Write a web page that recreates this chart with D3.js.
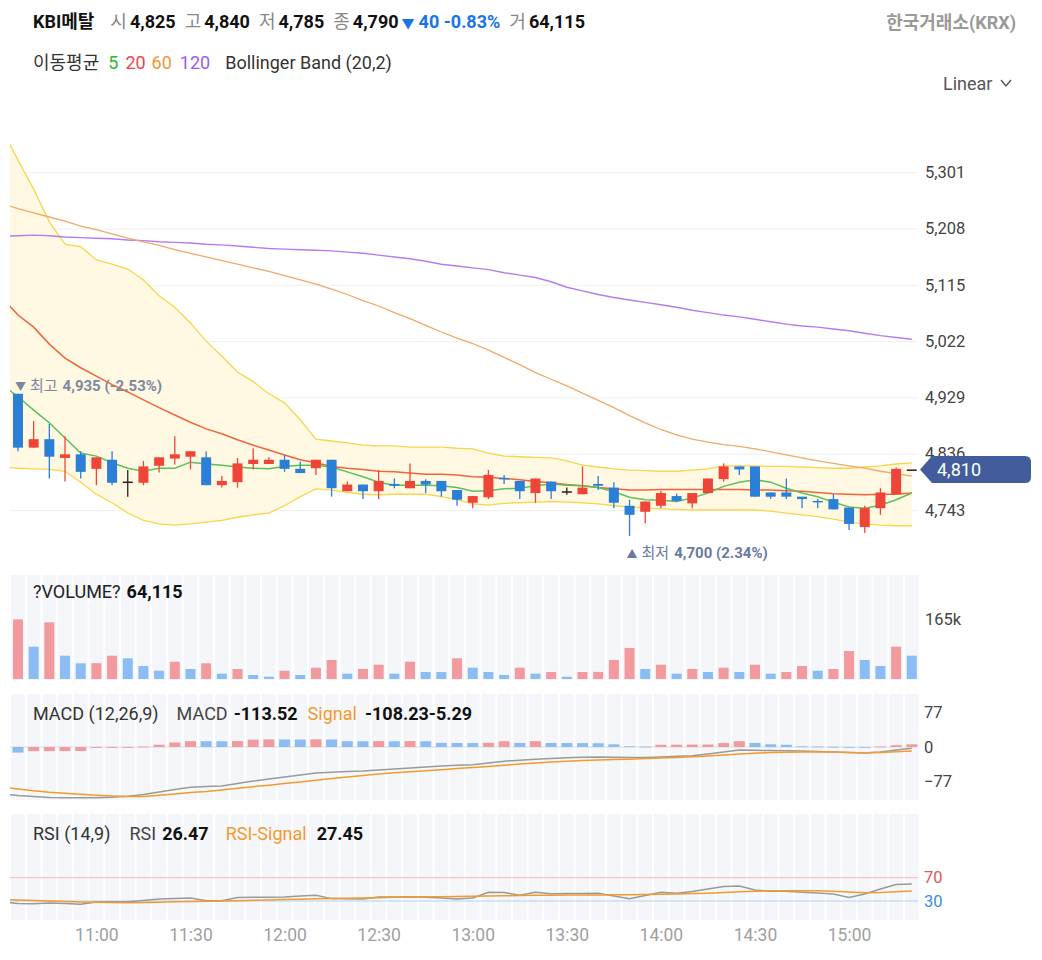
<!DOCTYPE html>
<html>
<head>
<meta charset="utf-8">
<script src="https://cdn.jsdelivr.net/npm/d3@7"></script>
<style>
  body { margin: 0; background: #fff; }
  svg text { font-family: Roboto, 'Noto Sans CJK KR', sans-serif; }
</style>
</head>
<body>
<svg id="chart" width="1042" height="960"></svg>
<script>
// 5-minute candles, 10:35 - 15:20
const prevTime = '10:30';   // one slot before the first candle, only used by the indicator lines
const times = ['10:35','10:40','10:45','10:50','10:55','11:00','11:05','11:10','11:15','11:20','11:25','11:30',
  '11:35','11:40','11:45','11:50','11:55','12:00','12:05','12:10','12:15','12:20','12:25','12:30',
  '12:35','12:40','12:45','12:50','12:55','13:00','13:05','13:10','13:15','13:20','13:25','13:30',
  '13:35','13:40','13:45','13:50','13:55','14:00','14:05','14:10','14:15','14:20','14:25','14:30',
  '14:35','14:40','14:45','14:50','14:55','15:00','15:05','15:10','15:15','15:20'];
const timeTicks = ['11:00','11:30','12:00','12:30','13:00','13:30','14:00','14:30','15:00'];
const priceTicks = [5301, 5208, 5115, 5022, 4929, 4836, 4743];

const opens  = [4935,4846,4860,4829,4835,4811,4826,4790,4788,4816,4828,4831,4830,4784,4789,4819,4819,4826,4811,4812,4826,4774,4785,4774,4786,4779,4791,4791,4776,4755,4764,4796,4791,4771,4790,4774,4769,4786,4780,4750,4740,4750,4766,4754,4771,4794,4815,4815,4772,4772,4765,4758,4761,4747,4715,4746,4769,4810];
const highs  = [4935,4890,4885,4865,4840,4830,4840,4809,4824,4830,4865,4840,4840,4799,4829,4845,4830,4834,4823,4826,4826,4790,4785,4809,4795,4820,4794,4791,4776,4766,4809,4801,4791,4795,4790,4780,4815,4799,4789,4760,4757,4775,4770,4771,4795,4820,4815,4815,4772,4795,4765,4761,4769,4747,4750,4779,4813,4810];
const lows   = [4840,4846,4795,4790,4795,4784,4784,4765,4784,4805,4818,4810,4784,4780,4780,4810,4819,4806,4804,4801,4765,4774,4761,4761,4779,4779,4771,4765,4750,4746,4761,4786,4761,4755,4761,4768,4769,4776,4746,4700,4721,4746,4756,4746,4771,4790,4801,4765,4761,4761,4746,4746,4744,4710,4705,4735,4769,4810];
const closes = [4846,4860,4831,4835,4806,4830,4788,4790,4815,4830,4835,4840,4784,4791,4820,4826,4826,4811,4804,4826,4779,4785,4774,4791,4783,4791,4785,4774,4760,4766,4801,4794,4774,4795,4774,4774,4780,4783,4755,4735,4757,4771,4758,4771,4795,4815,4810,4765,4765,4765,4761,4757,4744,4720,4746,4772,4811,4810];
const volumes = [164000,88800,155900,64100,43200,43600,64000,56900,35800,22800,47600,27500,43200,14600,27500,11000,6300,22800,11000,31100,52300,14600,27500,39300,14600,47600,19300,19100,56900,31100,19300,11000,31100,14600,19300,6300,19300,19500,52300,85300,27500,39300,14600,27500,19300,31100,19300,39300,14600,19300,35800,22800,27500,77000,52300,35800,88800,64115];

// indicator lines: first value belongs to prevTime, then one per candle
const ma5   = [4950,4930,4908,4887,4862,4837,4832,4821,4812,4807,4812,4812,4822,4819,4817,4814,4812,4811,4815,4817,4817,4814,4806,4798,4789,4784,4784,4784,4783,4780,4774,4775,4778,4779,4783,4786,4784,4783,4780,4773,4764,4760,4759,4757,4763,4771,4782,4789,4793,4789,4779,4771,4765,4756,4748,4746,4751,4760,4771];
const ma20  = [5093,5065,5045,5017,4994,4978,4964,4950,4938,4925,4912,4900,4888,4877,4869,4859,4850,4842,4834,4826,4821,4815,4812,4810,4807,4806,4804,4802,4802,4801,4798,4797,4795,4793,4790,4788,4785,4783,4780,4778,4776,4776,4777,4777,4777,4777,4777,4777,4776,4776,4775,4774,4772,4770,4769,4768,4769,4769,4771];
const ma60  = [5249,5241,5234,5227,5220,5212,5206,5199,5192,5186,5180,5173,5167,5161,5155,5149,5143,5137,5130,5123,5116,5108,5099,5089,5080,5069,5059,5048,5037,5027,5018,5007,4995,4983,4970,4959,4948,4936,4924,4912,4899,4887,4876,4867,4860,4855,4851,4848,4844,4839,4834,4829,4824,4820,4816,4812,4807,4803,4799];
const ma120 = [5195,5196,5197,5196,5194,5193,5192,5191,5189,5188,5186,5185,5184,5182,5181,5179,5177,5175,5174,5173,5172,5171,5169,5167,5164,5161,5158,5154,5149,5146,5143,5140,5135,5131,5127,5120,5111,5105,5099,5094,5090,5086,5082,5078,5073,5069,5065,5062,5058,5054,5050,5047,5045,5042,5039,5035,5031,5028,5025];
const bbUpper = [5371,5321,5273,5219,5182,5178,5156,5149,5141,5123,5097,5078,5052,5022,4997,4971,4955,4935,4920,4892,4860,4857,4854,4850,4849,4849,4847,4847,4847,4845,4844,4837,4832,4831,4830,4829,4824,4817,4814,4811,4809,4808,4807,4807,4809,4811,4816,4816,4816,4815,4815,4814,4813,4812,4812,4814,4816,4819,4821];
const bbLower = [4814,4812,4811,4810,4807,4789,4769,4755,4738,4726,4720,4718,4720,4723,4726,4731,4735,4738,4750,4765,4778,4776,4772,4769,4768,4769,4769,4769,4765,4760,4753,4751,4754,4755,4756,4757,4756,4755,4753,4750,4748,4746,4745,4744,4743,4743,4743,4743,4743,4741,4738,4735,4732,4728,4723,4720,4718,4717,4717];

const macdLine = [-104.9,-108.3,-110.5,-112.7,-113.2,-113.2,-113.2,-112.0,-110.0,-106.0,-100.4,-94.9,-90.0,-88.2,-87.0,-81.5,-75.9,-71.4,-67.0,-62.5,-58.0,-56.5,-54.7,-53.6,-51.3,-49.1,-46.9,-44.6,-42.4,-40.6,-39.5,-35.7,-31.7,-29.7,-27.5,-25.7,-24.1,-22.8,-22.3,-23.0,-23.7,-23.4,-22.3,-20.8,-19.4,-15.6,-11.2,-6.7,-7.4,-8.0,-8.5,-8.9,-9.8,-10.9,-12.3,-13.3,-11.2,-6.8,-2.9];
const signalLine = [-89.3,-93.7,-97.8,-101.1,-103.3,-105.6,-107.6,-109.4,-110.7,-110.5,-107.8,-104.9,-101.8,-99.3,-96.0,-92.2,-88.6,-85.3,-81.5,-78.1,-74.3,-70.5,-67.0,-63.6,-60.3,-57.6,-55.4,-53.1,-50.9,-48.0,-45.8,-43.5,-40.6,-37.9,-35.7,-33.5,-31.7,-30.4,-29.0,-28.1,-27.2,-25.9,-24.6,-23.2,-21.9,-20.1,-17.9,-15.6,-13.8,-12.5,-11.6,-11.2,-10.7,-11.2,-12.1,-12.9,-12.1,-10.7,-8.9];
const macdHist = [-12.5,-9.2,-9.1,-9.0,-8.9,-2.2,-2.0,-1.6,1.0,5.0,10.0,13.0,12.9,12.8,13.2,16.5,17.0,16.8,16.6,17.2,16.8,13.0,12.8,13.2,12.8,13.2,12.8,9.2,9.0,8.8,9.4,13.0,9.0,13.0,9.0,8.8,8.6,8.4,6.0,1.5,1.0,5.0,5.2,5.4,5.6,9.0,13.0,9.0,6.0,5.0,1.5,1.0,0.5,-0.3,-0.6,1.0,4.0,6.0];

const rsiLine = [28.3,25.7,25.2,26.6,25.7,24.3,28.3,28.8,28.8,30.9,33.4,34.3,35.1,30.5,30.5,36.0,36.3,36.3,36.9,38.6,39.8,34.1,33.8,33.4,36.9,36.9,37.4,36.3,35.1,33.4,35.1,45.1,44.6,39.8,45.1,42.3,42.7,43.0,43.2,38.6,33.9,39.4,45.1,43.2,46.3,50.6,54.9,55.7,48.9,46.6,46.6,45.1,43.7,42.0,36.0,42.0,50.6,58.3,59.1];
const rsiSignal = [32.6,31.7,30.9,30.0,29.1,28.3,27.8,27.3,27.1,27.4,27.9,28.6,29.1,29.7,30.0,30.5,31.2,31.7,32.4,33.1,33.8,34.3,34.8,35.1,35.7,36.3,36.9,37.2,37.5,37.7,38.1,38.6,38.9,39.3,39.8,39.9,40.1,40.3,40.5,40.6,40.6,41.0,41.5,42.0,42.7,43.5,44.6,45.8,46.8,47.5,47.7,47.7,47.5,46.8,45.4,44.2,44.6,45.8,47.1];

const lastPrice = 4810;

// ---------------------------------------------------------------
const svg = d3.select('#chart');
const plotL = 10, plotR = 918;
const UP = '#ef4538', DOWN = '#2b7fd6', FLAT = '#222';
const UP_L = '#f29a9d', DOWN_L = '#8bbcf3';

const allTimes = [prevTime].concat(times);
const x = d3.scalePoint().domain(allTimes).range([2.3, 911.8]);
const step = x.step();

const yPrice = d3.scaleLinear().domain([4743, 5301]).range([510, 172.2]);
const yVol = d3.scaleLinear().domain([0, 165000]).range([679, 619]);
const yMacd = d3.scaleLinear().domain([-77, 77]).range([781.5, 712.5]);
const yRsi = d3.scaleLinear().domain([30, 70]).range([901, 877.7]);

const defs = svg.append('defs');
defs.append('clipPath').attr('id', 'clipMain')
  .append('rect').attr('x', plotL).attr('y', 120).attr('width', plotR - plotL).attr('height', 450);
defs.append('clipPath').attr('id', 'clipMacd')
  .append('rect').attr('x', plotL).attr('y', 694).attr('width', plotR - plotL).attr('height', 106);
defs.append('clipPath').attr('id', 'clipRsi')
  .append('rect').attr('x', plotL).attr('y', 814).attr('width', plotR - plotL).attr('height', 106);

// small helper: a text made of flowing pieces [text, dx, style]
function flow(xPos, yPos, size, pieces) {
  const t = svg.append('text').attr('x', xPos).attr('y', yPos).attr('font-size', size);
  pieces.forEach(p => {
    const s = t.append('tspan').text(p[0]).attr('dx', p[1] || 0);
    const o = p[2] || {};
    s.attr('fill', o.color || '#222').attr('font-weight', o.bold ? 700 : 400);
    if (o.size) s.attr('font-size', o.size);
  });
  return t;
}

// ---------------- header ----------------
const GREY = { color: '#888' }, B = { bold: true, color: '#111' }, BLUE = { bold: true, color: '#1a73e8' };
flow(33, 28, 18, [
  ['KBI메탈', 0, B],
  ['시', 16, GREY], ['4,825', 3, B],
  ['고', 9, GREY], ['4,840', 3, B],
  ['저', 9, GREY], ['4,785', 3, B],
  ['종', 9, GREY], ['4,790', 3, B],
  ['▼', 3, { color: '#1a73e8', size: 13 }], ['40 -0.83%', 4, BLUE],
  ['거', 9, GREY], ['64,115', 3, B]
]);
svg.append('text').attr('x', 1016).attr('y', 29).attr('text-anchor', 'end')
  .attr('font-size', 18).attr('font-weight', 700).attr('fill', '#9a9a9a').text('한국거래소(KRX)');

flow(33, 69, 18, [
  ['이동평균', 0, { color: '#333' }],
  ['5', 9, { color: '#2eb82e' }],
  ['20', 7, { color: '#f0434a' }],
  ['60', 6, { color: '#f39436' }],
  ['120', 8, { color: '#9a5cf0' }],
  ['Bollinger Band (20,2)', 15, { color: '#333' }]
]);

svg.append('text').attr('x', 943).attr('y', 90).attr('font-size', 18).attr('fill', '#555').text('Linear');
svg.append('path').attr('d', 'M1001,80 L1006,86 L1011,80')
  .attr('fill', 'none').attr('stroke', '#555').attr('stroke-width', 1.4);

// ---------------- price panel ----------------
const priceAxis = svg.append('g').attr('transform', `translate(${plotR},0)`)
  .call(d3.axisRight(yPrice).tickValues(priceTicks).tickSize(-(plotR - plotL)).tickPadding(7).tickFormat(d3.format(',')));
priceAxis.select('.domain').remove();
priceAxis.selectAll('line').attr('stroke', '#f0f0f0');
priceAxis.selectAll('text').attr('font-size', 16.5).attr('fill', '#444');

const main = svg.append('g').attr('clip-path', 'url(#clipMain)');

const bbArea = d3.area()
  .x((d, i) => x(allTimes[i]))
  .y0((d, i) => yPrice(bbLower[i]))
  .y1(d => yPrice(d));
main.append('path').datum(bbUpper).attr('d', bbArea).attr('fill', '#fff7df').attr('opacity', 0.9);

function priceLine(data, color, width) {
  const line = d3.line().x((d, i) => x(allTimes[i])).y(d => yPrice(d));
  main.append('path').datum(data).attr('d', line)
    .attr('fill', 'none').attr('stroke', color).attr('stroke-width', width);
}
priceLine(bbUpper, '#f8d54e', 1.3);
priceLine(bbLower, '#f8d54e', 1.3);
priceLine(ma120, '#b57cf2', 1.4);
priceLine(ma60, '#f2a868', 1.3);
priceLine(ma20, '#f0653a', 1.5);
priceLine(ma5, '#5cc15c', 1.5);

// candles
const candles = main.selectAll('g.candle').data(times).join('g').attr('class', 'candle');
const cColor = i => closes[i] > opens[i] ? UP : (closes[i] < opens[i] ? DOWN : FLAT);
candles.append('line')
  .attr('x1', d => x(d)).attr('x2', d => x(d))
  .attr('y1', (d, i) => yPrice(highs[i])).attr('y2', (d, i) => yPrice(lows[i]))
  .attr('stroke', (d, i) => cColor(i)).attr('stroke-width', 1.3);
candles.append('rect')
  .attr('x', d => x(d) - 5).attr('width', 10)
  .attr('y', (d, i) => yPrice(Math.max(opens[i], closes[i])))
  .attr('height', (d, i) => Math.max(1.5, Math.abs(yPrice(opens[i]) - yPrice(closes[i]))))
  .attr('fill', (d, i) => cColor(i));

// high / low markers
const hiIdx = d3.maxIndex(highs), loIdx = d3.minIndex(lows);
flow(x(times[hiIdx]) - 3, yPrice(highs[hiIdx]) - 3, 15, [
  ['▼', 0, { color: '#7c88a2', size: 11 }], ['최고', 4, { color: '#7c88a2' }],
  ['4,935 (-2.53%)', 5, { color: '#7c88a2', bold: true }]
]);
flow(x(times[loIdx]) - 3, yPrice(lows[loIdx]) + 22, 15, [
  ['▲', 0, { color: '#6b7aa3', size: 11 }], ['최저', 4, { color: '#6b7aa3' }],
  ['4,700 (2.34%)', 5, { color: '#6b7aa3', bold: true }]
]);

// last price tag
const ly = yPrice(lastPrice);
svg.append('path')
  .attr('d', `M920,${ly} L932,${ly - 13.5} L1025,${ly - 13.5} Q1031,${ly - 13.5} 1031,${ly - 7.5} L1031,${ly + 7.5} Q1031,${ly + 13.5} 1025,${ly + 13.5} L932,${ly + 13.5} Z`)
  .attr('fill', '#435d9c');
svg.append('text').attr('x', 937).attr('y', ly + 6.5).attr('font-size', 18).attr('fill', '#fff')
  .text(d3.format(',')(lastPrice));

// ---------------- lower panels ----------------
function panelBg(top, bottom) {
  svg.append('g').selectAll('rect').data(times).join('rect')
    .attr('x', d => x(d) - step / 2 + 1).attr('width', step - 2)
    .attr('y', top).attr('height', bottom - top)
    .attr('fill', '#f4f6fa');
}
panelBg(575, 680);
panelBg(694, 800);
panelBg(814, 920);

// volume
svg.append('g').selectAll('rect').data(volumes).join('rect')
  .attr('x', (d, i) => x(times[i]) - 5).attr('width', 10)
  .attr('y', d => yVol(d)).attr('height', d => yVol(0) - yVol(d))
  .attr('fill', (d, i) => (i === 0 || d > volumes[i - 1]) ? UP_L : DOWN_L);
const volAxis = svg.append('g').attr('transform', `translate(${plotR},0)`)
  .call(d3.axisRight(yVol).tickValues([165000]).tickSize(0).tickPadding(7).tickFormat(d => d / 1000 + 'k'));
volAxis.select('.domain').remove();
volAxis.selectAll('text').attr('font-size', 16.5).attr('fill', '#444');
flow(33, 598, 18, [['?VOLUME?', 0, { color: '#222' }],
  [d3.format(',')(volumes[volumes.length - 1]), 6, B]]);

// MACD
svg.append('line').attr('x1', plotL).attr('x2', plotR).attr('y1', yMacd(0)).attr('y2', yMacd(0))
  .attr('stroke', '#dcdcdc').attr('stroke-width', 1);
svg.append('g').selectAll('rect').data(macdHist).join('rect')
  .attr('x', (d, i) => x(times[i]) - 5.5).attr('width', 11)
  .attr('y', d => Math.min(yMacd(d), yMacd(0)))
  .attr('height', d => Math.max(0.8, Math.abs(yMacd(d) - yMacd(0))))
  .attr('fill', (d, i) => (i === 0 || d <= macdHist[i - 1]) ? DOWN_L : UP_L);
const macdG = svg.append('g').attr('clip-path', 'url(#clipMacd)');
const macdPath = d3.line().x((d, i) => x(allTimes[i])).y(d => yMacd(d));
macdG.append('path').datum(macdLine).attr('d', macdPath).attr('fill', 'none').attr('stroke', '#9a9a9a').attr('stroke-width', 1.5);
macdG.append('path').datum(signalLine).attr('d', macdPath).attr('fill', 'none').attr('stroke', '#f39a2c').attr('stroke-width', 1.5);
const macdAxis = svg.append('g').attr('transform', `translate(${plotR},0)`)
  .call(d3.axisRight(yMacd).tickValues([77, 0, -77]).tickSize(0).tickPadding(6));
macdAxis.select('.domain').remove();
macdAxis.selectAll('text').attr('font-size', 16.5).attr('fill', '#444');
flow(33, 720, 18, [
  ['MACD (12,26,9)', 0, { color: '#333' }],
  ['MACD', 18, { color: '#444' }], ['-113.52', 6, B],
  ['Signal', 10, { color: '#f39a2c' }], ['-108.23-5.29', 8, B]
]);

// RSI
svg.append('line').attr('x1', plotL).attr('x2', plotR).attr('y1', yRsi(70)).attr('y2', yRsi(70))
  .attr('stroke', '#f6b8b8').attr('stroke-width', 1);
svg.append('line').attr('x1', plotL).attr('x2', plotR).attr('y1', yRsi(30)).attr('y2', yRsi(30))
  .attr('stroke', '#b3d1f3').attr('stroke-width', 1);
const rsiG = svg.append('g').attr('clip-path', 'url(#clipRsi)');
const rsiPath = d3.line().x((d, i) => x(allTimes[i])).y(d => yRsi(d));
rsiG.append('path').datum(rsiLine).attr('d', rsiPath).attr('fill', 'none').attr('stroke', '#9a9a9a').attr('stroke-width', 1.5);
rsiG.append('path').datum(rsiSignal).attr('d', rsiPath).attr('fill', 'none').attr('stroke', '#f39a2c').attr('stroke-width', 1.5);
const rsiAxis = svg.append('g').attr('transform', `translate(${plotR},0)`)
  .call(d3.axisRight(yRsi).tickValues([70, 30]).tickSize(0).tickPadding(6));
rsiAxis.select('.domain').remove();
rsiAxis.selectAll('text').attr('font-size', 16.5).attr('fill', d => d === 70 ? '#e0585c' : '#3a8ee6');
flow(33, 840, 18, [
  ['RSI (14,9)', 0, { color: '#333' }],
  ['RSI', 19, { color: '#444' }], ['26.47', 6, B],
  ['RSI-Signal', 17, { color: '#f39a2c' }], ['27.45', 10, B]
]);

// time axis
const xAxis = svg.append('g').attr('transform', 'translate(0,921)')
  .call(d3.axisBottom(x).tickValues(timeTicks).tickSize(0).tickPadding(8));
xAxis.select('.domain').remove();
xAxis.selectAll('text').attr('font-size', 17.5).attr('fill', '#a0a0a0');
</script>
</body>
</html>
